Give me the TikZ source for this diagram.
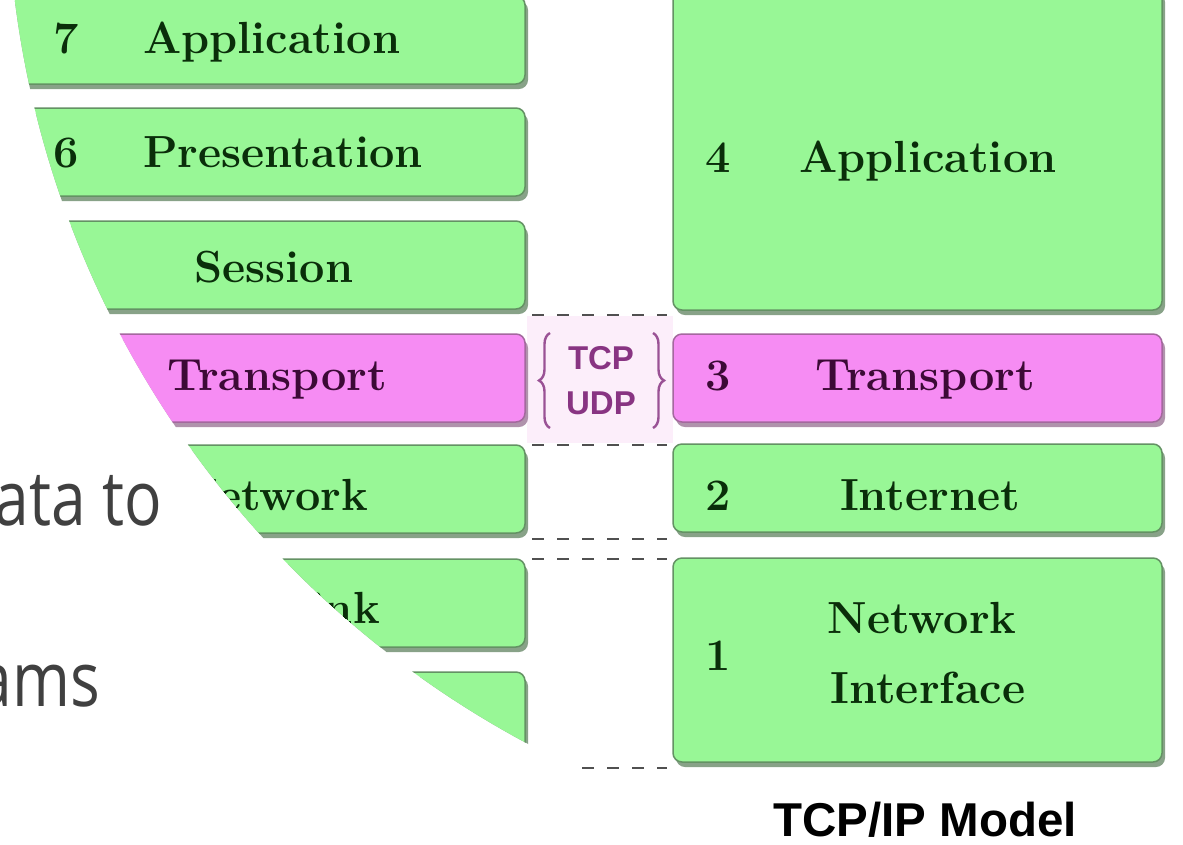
\documentclass[tikz,border=0pt]{standalone}
\usepackage{fontspec}
\newfontfamily\labelsans{Liberation Sans}
\newfontfamily\slidesans{Open Sans}
\usetikzlibrary{decorations.pathreplacing,shadows}

\definecolor{boxgreen}{RGB}{152,247,150}
\definecolor{boxgreenline}{RGB}{100,146,100}
\definecolor{boxgreenshade}{RGB}{124,152,124}
\definecolor{boxpink}{RGB}{246,140,243}
\definecolor{boxpinkline}{RGB}{164,104,158}
\definecolor{boxpinkshade}{RGB}{168,136,164}
\definecolor{greentext}{RGB}{10,46,10}
\definecolor{pinktext}{RGB}{60,10,54}
\definecolor{prototext}{RGB}{136,52,130}
\definecolor{prototint}{RGB}{252,238,250}
\definecolor{sepgray}{RGB}{80,80,80}
\definecolor{slidegray}{RGB}{64,64,64}

\begin{document}
\begin{tikzpicture}[x=1pt,y=-1pt,
  layer/.style={rounded corners=9pt, line width=1.5pt, inner sep=0pt},
  greenlayer/.style={layer, fill=boxgreen, draw=boxgreenline,
    drop shadow={shadow xshift=3pt, shadow yshift=-5pt, fill=boxgreenshade, opacity=0.9}},
  pinklayer/.style={layer, fill=boxpink, draw=boxpinkline,
    drop shadow={shadow xshift=3pt, shadow yshift=-5pt, fill=boxpinkshade, opacity=0.9}},
  osiwide/.style={minimum width=560pt, minimum height=88pt},
  tcpwide/.style={minimum width=489pt},
  lbl/.style={font=\fontsize{45}{70}\selectfont\bfseries, text=greentext, inner sep=0pt},
  plbl/.style={lbl, text=pinktext},
  proto/.style={font=\labelsans\bfseries\fontsize{33}{40}\selectfont, text=prototext, inner sep=0pt},
  protobrace/.style={draw=prototext!85, line width=2.4pt,
    decorate, decoration={brace, amplitude=11pt}},
  separator/.style={draw=sepgray, line width=2.7pt, dash pattern=on 12pt off 13pt},
  slide/.style={font=\slidesans\fontsize{76}{90}\selectfont, text=slidegray, inner sep=0pt}
]
\useasboundingbox (0,0) rectangle (1183,844);
\fill[white] (0,0) rectangle (1183,844);

\begin{scope}
  % the diagram sits inside a large round frame
  \clip (990,-124) circle [radius=983pt];
  \fill[white] (0,0) rectangle (1183,844);

  % tinted band behind the transport protocols
  \fill[prototint] (527,316) rectangle (673,443);

  % OSI model (left column)
  \node[greenlayer, osiwide] (osi7) at (245,40)  {};
  \node[greenlayer, osiwide] (osi6) at (245,152) {};
  \node[greenlayer, osiwide] (osi5) at (245,265) {};
  \node[pinklayer,  osiwide] (osi4) at (245,378) {};
  \node[greenlayer, osiwide] (osi3) at (245,489) {};
  \node[greenlayer, osiwide] (osi2) at (245,603) {};
  \node[greenlayer, osiwide] (osi1) at (245,716) {};

  \node[lbl, anchor=base] (n7) at (66,53) {7};
  \node[lbl, anchor=base west] (t7) at (143,53) {Application};
  \node[lbl, anchor=base] (n6) at (66,167) {6};
  \node[lbl, anchor=base west] (t6) at (143,167) {Presentation};
  \node[lbl, anchor=base] (t5) at (274,282) {Session};
  \node[plbl, anchor=base] (t4) at (277,390) {Transport};
  \node[lbl, anchor=base east] (t3) at (368,510) {Network};
  \node[lbl, anchor=base east] (t2) at (380,623) {Data Link};

  % TCP/IP model (right column)
  \node[greenlayer, tcpwide, minimum height=322pt] (tcp4) at (917.5,149) {};
  \node[pinklayer,  tcpwide, minimum height=88pt]  (tcp3) at (917.5,378) {};
  \node[greenlayer, tcpwide, minimum height=88pt]  (tcp2) at (917.5,488) {};
  \node[greenlayer, tcpwide, minimum height=204pt] (tcp1) at (917.5,660) {};

  \node[lbl, anchor=base] (m4) at (718,172) {4};
  \node[lbl, anchor=base] (u4) at (928,172) {Application};
  \node[plbl, anchor=base] (m3) at (718,390) {3};
  \node[plbl, anchor=base] (u3) at (925,390) {Transport};
  \node[lbl, anchor=base] (m2) at (718,510) {2};
  \node[lbl, anchor=base] (u2) at (930,510) {Internet};
  \node[lbl, anchor=base] (m1) at (718,670) {1};
  \node[lbl, anchor=base] (u1a) at (922,633) {Network};
  \node[lbl, anchor=base] (u1b) at (928,703) {Interface};

  \node[font=\labelsans\bfseries\fontsize{47.5}{50}\selectfont, anchor=base, inner sep=0pt]
    (caption) at (925,836) {TCP/IP Model};

  % protocols between the two transport layers
  \node[proto, anchor=base] (tcp) at (601,369) {TCP};
  \node[proto, anchor=base] (udp) at (601,414) {UDP};
  \coordinate (lbA) at (550,428);
  \coordinate (lbB) at (550,333);
  \coordinate (rbA) at (653,333);
  \coordinate (rbB) at (653,428);
  \draw[protobrace] (lbA) -- (lbB);
  \draw[protobrace] (rbA) -- (rbB);

  % dashed separators between the columns
  \foreach \y/\k in {315/a, 445/b, 539/c, 559/d, 768/e} {
    \coordinate (sepL\k) at (532,\y);
    \coordinate (sepR\k) at (667,\y);
    \draw[separator] (sepL\k) -- (sepR\k);
  }
\end{scope}

% slide text beside the round frame
\node[slide, anchor=base east] (line1) at (162,525) {\scalebox{0.82}[1]{ata to}};
\node[slide, anchor=base east] (line2) at (100,706) {\scalebox{0.82}[1]{ams}};
\end{tikzpicture}
\end{document}
